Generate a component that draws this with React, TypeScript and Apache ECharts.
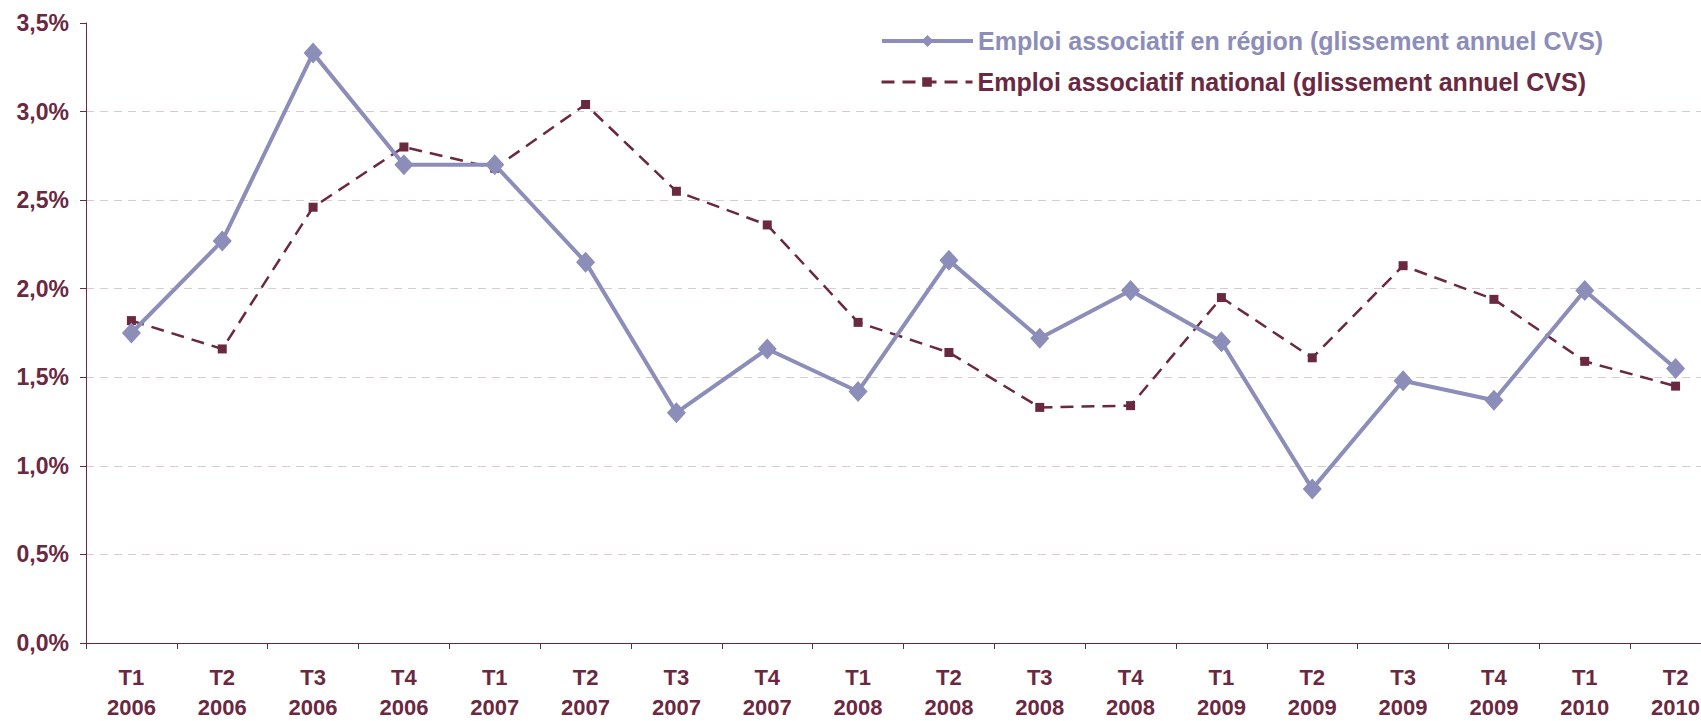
import React, { useEffect, useRef } from "react";
import * as echarts from "echarts";

const quarters = ["T1","T2","T3","T4","T1","T2","T3","T4","T1","T2","T3","T4","T1","T2","T3","T4","T1","T2"];
const years = ["2006","2006","2006","2006","2007","2007","2007","2007","2008","2008","2008","2008","2009","2009","2009","2009","2010","2010"];
const regionName = "Emploi associatif en région (glissement annuel CVS)";
const nationalName = "Emploi associatif national (glissement annuel CVS)";
const regionValues = [1.75, 2.27, 3.33, 2.70, 2.70, 2.15, 1.30, 1.66, 1.42, 2.16, 1.72, 1.99, 1.70, 0.87, 1.48, 1.37, 1.99, 1.55];
const nationalValues = [1.82, 1.66, 2.46, 2.80, 2.68, 3.04, 2.55, 2.36, 1.81, 1.64, 1.33, 1.34, 1.95, 1.61, 2.13, 1.94, 1.59, 1.45];

const LAV = "#8C8DB9";
const MAR = "#6B2841";
const FONT = "'Liberation Sans', Arial, sans-serif";

export default function App() {
  const ref = useRef<HTMLDivElement>(null);
  useEffect(() => {
    if (!ref.current) return;
    const chart = echarts.init(ref.current, null, { renderer: "svg" });
    const labelBase = { color: MAR, fontSize: 22, fontWeight: "bold", fontFamily: FONT, interval: 0 };
    chart.setOption({
      animation: false,
      backgroundColor: "#ffffff",
      grid: { left: 86, right: 19, top: 23, bottom: 78, containLabel: false, outerBoundsMode: "none" },
      legend: [
        {
          data: [regionName],
          left: 875,
          top: 21,
          orient: "vertical",
          itemWidth: 91,
          itemHeight: 15,
          lineStyle: { width: 4 },
          textStyle: { color: LAV, fontSize: 25, fontWeight: "bold", fontFamily: FONT, lineHeight: 30 },
        },
        {
          data: [nationalName],
          left: 875,
          top: 62,
          orient: "vertical",
          itemWidth: 91,
          itemHeight: 12,
          lineStyle: { width: 3 },
          textStyle: { color: MAR, fontSize: 25, fontWeight: "bold", fontFamily: FONT, lineHeight: 30 },
        },
      ],
      xAxis: [
        {
          type: "category",
          data: quarters,
          boundaryGap: true,
          position: "bottom",
          axisLine: { lineStyle: { color: MAR, width: 1 } },
          axisTick: { show: true, length: 6, lineStyle: { color: MAR } },
          axisLabel: { ...labelBase, lineHeight: 22, margin: 23 },
        },
        {
          type: "category",
          data: years,
          boundaryGap: true,
          position: "bottom",
          axisLine: { show: false },
          axisTick: { show: false },
          splitLine: { show: false },
          axisLabel: { ...labelBase, lineHeight: 18, margin: 55 },
        },
      ],
      yAxis: {
        type: "value",
        min: 0,
        max: 3.5,
        interval: 0.5,
        axisLine: { show: true, lineStyle: { color: MAR, width: 1 } },
        axisTick: { show: true, length: 6, lineStyle: { color: MAR } },
        axisLabel: {
          color: MAR,
          fontSize: 23,
          fontWeight: "bold",
          fontFamily: FONT,
          margin: 17,
          formatter: (v: number) => v.toFixed(1).replace(".", ",") + "%",
        },
        splitLine: {
          show: true,
          showMinLine: false,
          showMaxLine: false,
          lineStyle: { color: "#D9CACE", type: [8, 6], width: 1 },
        },
      },
      series: [
        {
          name: nationalName,
          type: "line",
          xAxisIndex: 0,
          data: nationalValues,
          symbol: "rect",
          symbolSize: 9,
          itemStyle: { color: MAR },
          lineStyle: { color: MAR, width: 2.5, type: [13, 8] },
          z: 2,
        },
        {
          name: regionName,
          type: "line",
          xAxisIndex: 0,
          data: regionValues,
          symbol: "diamond",
          symbolSize: [19, 21],
          itemStyle: { color: LAV },
          lineStyle: { color: LAV, width: 4 },
          z: 3,
        },
      ],
    });
    return () => chart.dispose();
  }, []);
  return (
    <div style={{ position: "absolute", left: 0, top: 0, width: 1701, height: 721, overflow: "hidden" }}>
      <div ref={ref} style={{ width: 1740, height: 721 }} />
    </div>
  );
}
